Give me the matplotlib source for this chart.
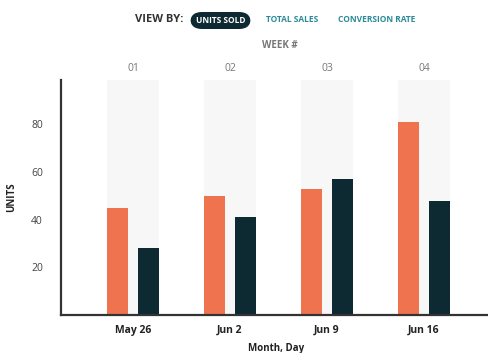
import numpy as np
import matplotlib.pyplot as plt
from matplotlib.patches import FancyBboxPatch

plt.rcParams['font.family'] = ['Open Sans', 'DejaVu Sans']

# data
dates = ['May 26', 'Jun 2', 'Jun 9', 'Jun 16']
weeks = ['01', '02', '03', '04']
units_a = [45, 50, 53, 81]   # orange series
units_b = [28, 41, 57, 48]   # dark series
yticks = [20, 40, 60, 80]

orange = '#f07350'
dark = '#0d2a33'
teal = '#2b8a98'

fig = plt.figure(figsize=(4.89, 3.53), dpi=100)
ax = fig.add_axes([0.1247, 0.1076, 0.8753, 0.6654])

x = np.arange(len(dates))
bw = 0.215
ymax = 98.5

# shaded week bands
for xi in x:
    ax.bar(xi, ymax, width=0.54, color='#f7f7f7', zorder=0)

ax.bar(x - 0.163, units_a, width=bw, color=orange, zorder=2)
ax.bar(x + 0.163, units_b, width=bw, color=dark, zorder=2)

ax.set_xlim(-0.742, 3.67)
ax.set_ylim(0, ymax)
ax.set_xticks(x)
ax.set_xticklabels(dates, fontsize=7.5, fontweight='bold', color='#222222')
ax.set_yticks(yticks)
ax.set_yticklabels([str(v) for v in yticks], fontsize=7.5, color='#444444')
ax.tick_params(length=0, pad=7)
ax.tick_params(axis='y', pad=13)

for s in ['top', 'right']:
    ax.spines[s].set_visible(False)
for s in ['left', 'bottom']:
    ax.spines[s].set_color('#333333')
    ax.spines[s].set_linewidth(1.6)

ax.set_ylabel('UNITS', fontsize=7, fontweight='bold', color='#222222')
ax.yaxis.set_label_coords(-(61 - 17) / 428, 0.5)
ax.set_xlabel('Month, Day', fontsize=7, fontweight='bold', color='#222222')
ax.xaxis.set_label_coords((276 - 61) / 428, -(343 - 315) / 235)

# week numbers on top
for xi, w in zip(x, weeks):
    ax.text(xi, ymax + 5, w, ha='center', va='center', fontsize=7.5, color='#777777', clip_on=False)

# header
fig.text(280 / 489, 1 - 45 / 353, 'WEEK #', ha='center', va='center', fontsize=7,
         fontweight='bold', color='#777777')
fig.text(159 / 489, 1 - 20 / 353, 'VIEW BY:', ha='center', va='center', fontsize=8,
         fontweight='bold', color='#333333')
pill = FancyBboxPatch((190 / 489, 1 - 29 / 353), 61 / 489, 17 / 353,
                      boxstyle='round,pad=0,rounding_size=0.024', transform=fig.transFigure,
                      facecolor=dark, edgecolor='none', mutation_aspect=1.385)
fig.patches.append(pill)
fig.text(220.5 / 489, 1 - 20.5 / 353, 'UNITS SOLD', ha='center', va='center', fontsize=6,
         fontweight='bold', color='white')
fig.text(292 / 489, 1 - 20 / 353, 'TOTAL SALES', ha='center', va='center', fontsize=6,
         fontweight='bold', color=teal)
fig.text(377 / 489, 1 - 20 / 353, 'CONVERSION RATE', ha='center', va='center', fontsize=6,
         fontweight='bold', color=teal)

fig.savefig('out.png', dpi=100)
